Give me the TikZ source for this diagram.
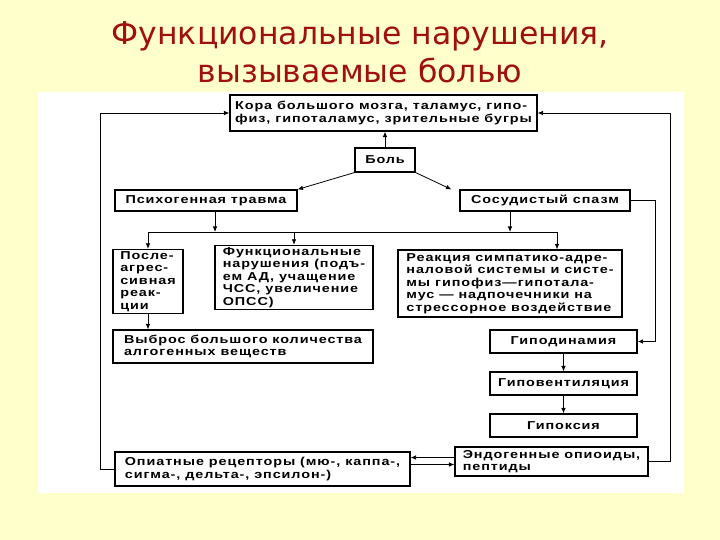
\documentclass[tikz,border=0pt]{standalone}
\usepackage{fontspec}
\usetikzlibrary{arrows.meta}
\newfontfamily\titlefont{DejaVu Sans}
\newfontfamily\boxfont[FakeStretch=1.25,LetterSpace=8]{Liberation Sans}
\definecolor{cream}{RGB}{255,255,204}
\definecolor{ttl}{RGB}{160,16,16}
\begin{document}
\begin{tikzpicture}[x=1pt,y=-1pt,
  ttlstyle/.style={font=\titlefont\fontsize{31.5}{34}\selectfont, text=ttl, inner sep=0pt},
  bx/.style={draw, line width=1.1pt, inner sep=2pt, align=left,
    font=\boxfont\bfseries\fontsize{11.5}{12.5}\selectfont},
  ln/.style={line width=0.8pt},
  arr/.style={line width=0.8pt, -{Latex[length=5.5pt,width=4.5pt]}}]
\fill[cream] (0,0) rectangle (720,540);
\useasboundingbox (0,0) rectangle (720,540);
\fill[white] (38,92) rectangle (684,493);
\node[ttlstyle] (t1) at (360,36) {Функциональные нарушения,};
\node[ttlstyle] (t2) at (360,70) {вызываемые болью};

\node[bx, minimum width=307pt, minimum height=36pt] (kora) at (383.5,113) {Кора большого мозга, таламус, гипо-\\физ, гипоталамус, зрительные бугры};
\node[bx, minimum width=60pt, minimum height=24pt] (bol) at (385,160) {Боль};
\node[bx, minimum width=182pt, minimum height=21pt] (psih) at (206,200.5) {Психогенная травма};
\node[bx, minimum width=170pt, minimum height=21pt] (spasm) at (545,200.5) {Сосудистый спазм};
\node[bx, minimum width=70pt, minimum height=63pt] (posle) at (148,281.5) {После-\\агрес-\\сивная\\реак-\\ции};
\node[bx, minimum width=158pt, minimum height=55pt] (func) at (294,277.5) {Функциональные\\нарушения (подъ-\\ем АД, учащение\\ЧСС, увеличение\\ОПСС)};
\node[bx, minimum width=224pt, minimum height=67pt] (reak) at (510,283.5) {Реакция симпатико-адре-\\наловой системы и систе-\\мы гипофиз—гипотала-\\мус — надпочечники на\\стрессорное воздействие};
\node[bx, minimum width=260pt, minimum height=33pt] (vybros) at (243,346.5) {Выброс большого количества\\алгогенных веществ};
\node[bx, minimum width=147pt, minimum height=23pt] (gipodin) at (563.5,341.5) {Гиподинамия};
\node[bx, minimum width=147pt, minimum height=23pt] (gipovent) at (563.5,383.5) {Гиповентиляция};
\node[bx, minimum width=147pt, minimum height=23pt] (gipoks) at (563.5,425.5) {Гипоксия};
\node[bx, minimum width=295pt, minimum height=34pt] (opiat) at (262.5,469) {Опиатные рецепторы (мю-, каппа-,\\сигма-, дельта-, эпсилон-)};
\node[bx, minimum width=193pt, minimum height=29pt] (endo) at (551.5,461.5) {Эндогенные опиоиды,\\пептиды};

\coordinate (hL) at (148,232);
\coordinate (hR) at (557,232);
\coordinate (lx) at (100,0);
\coordinate (rx) at (670,0);
\coordinate (sx) at (655,0);

\draw[arr] (bol.north) -- (bol.north |- kora.south);
\draw[arr] (bol.south west) -- (psih.north east);
\draw[arr] (bol.south east) -- ([xshift=-8pt]spasm.north west);
\draw[arr] ([xshift=9pt]psih.south) -- ([xshift=9pt]psih.south |- hL);
\draw[arr] ([xshift=-35pt]spasm.south) -- ([xshift=-35pt]spasm.south |- hL);
\draw[ln] (hL) -- (hR);
\draw[arr] (hL) -- (hL |- posle.north);
\draw[arr] (func.north |- hL) -- (func.north);
\draw[arr] (hR) -- (hR |- reak.north);
\draw[arr] (posle.south) -- (posle.south |- vybros.north);
\draw[arr] (gipodin) -- (gipovent);
\draw[arr] (gipovent) -- (gipoks);
\draw[arr] (opiat.west) -- (opiat.west -| lx) |- (kora.west);
\draw[arr] (endo.east) -- (endo.east -| rx) |- (kora.east);
\draw[arr] (spasm.east) -- (spasm.east -| sx) |- (gipodin.east);
\draw[arr] ([yshift=4pt]endo.west) -- ([yshift=4pt]endo.west -| opiat.east);
\draw[arr] ([yshift=-3pt]endo.west -| opiat.east) -- ([yshift=-3pt]endo.west);
\end{tikzpicture}
\end{document}
